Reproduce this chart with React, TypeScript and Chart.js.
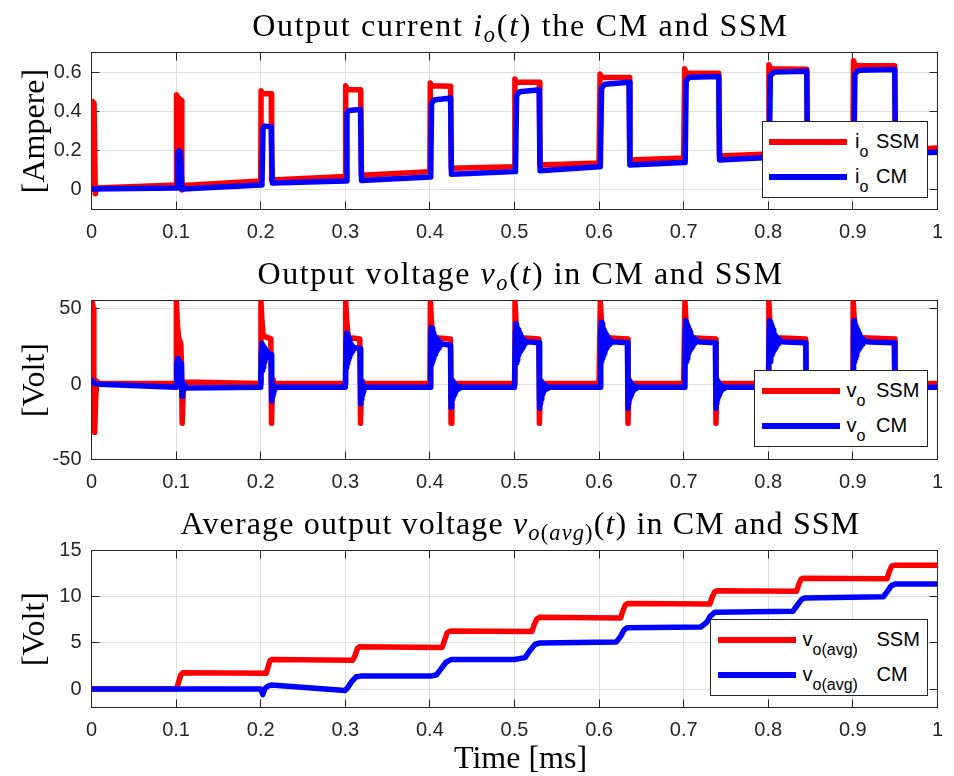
import React, { useEffect, useRef } from "react";
import { Chart, registerables } from "chart.js";
Chart.register(...registerables);

// ---------- tick values ----------
const xTicks = [0, 0.1, 0.2, 0.3, 0.4, 0.5, 0.6, 0.7, 0.8, 0.9, 1];
const xTickLabels = ["0", "0.1", "0.2", "0.3", "0.4", "0.5", "0.6", "0.7", "0.8", "0.9", "1"];
const ioTicks = [0, 0.2, 0.4, 0.6];
const ioTickLabels = ["0", "0.2", "0.4", "0.6"];
const voTicks = [-50, 0, 50];
const voTickLabels = ["-50", "0", "50"];
const avgTicks = [0, 5, 10, 15];
const avgTickLabels = ["0", "5", "10", "15"];

// ---------- output current i_o(t) [A], points [t(ms), value] ----------
const ioSsm: [number, number][] = [
  [0, 0.01], [0.0012, 0.45], [0.003, 0.44], [0.0045, -0.02], [0.006, 0.01], [0.1, 0.025],
  [0.1005, 0.485], [0.102, 0.47], [0.1028, 0.15], [0.1038, 0.465], [0.1058, 0.455], [0.1068, 0.0], [0.108, 0.022], [0.2, 0.045],
  [0.2005, 0.505], [0.202, 0.49], [0.2125, 0.49], [0.213, 0.05], [0.3, 0.068],
  [0.3005, 0.53], [0.302, 0.51], [0.3183, 0.51], [0.319, 0.075], [0.4, 0.093],
  [0.4005, 0.545], [0.402, 0.53], [0.4245, 0.528], [0.4252, 0.11], [0.5, 0.118],
  [0.5005, 0.565], [0.502, 0.55], [0.5293, 0.548], [0.53, 0.127], [0.6, 0.137],
  [0.6012, 0.59], [0.603, 0.574], [0.6355, 0.572], [0.6362, 0.152], [0.7, 0.162],
  [0.7012, 0.617], [0.703, 0.596], [0.7415, 0.594], [0.7422, 0.172], [0.8, 0.183],
  [0.8008, 0.638], [0.803, 0.617], [0.8455, 0.615], [0.8462, 0.188], [0.9, 0.196],
  [0.9008, 0.658], [0.903, 0.634], [0.9495, 0.632], [0.9502, 0.203], [1, 0.213],
];
const ioCm: [number, number][] = [
  [0, 0.005], [0.1, 0.01], [0.1012, 0.01], [0.102, 0.19], [0.1035, 0.2], [0.105, 0.19], [0.107, 0.005], [0.2, 0.025],
  [0.2015, 0.025], [0.2028, 0.315], [0.205, 0.325], [0.2125, 0.32], [0.2138, 0.035], [0.3, 0.045],
  [0.301, 0.045], [0.302, 0.39], [0.304, 0.405], [0.318, 0.41], [0.3192, 0.048], [0.4, 0.066],
  [0.401, 0.066], [0.402, 0.44], [0.405, 0.458], [0.4245, 0.468], [0.4255, 0.08], [0.5, 0.093],
  [0.5012, 0.093], [0.5025, 0.48], [0.506, 0.5], [0.5293, 0.51], [0.5303, 0.098], [0.6, 0.118],
  [0.6015, 0.118], [0.603, 0.52], [0.607, 0.538], [0.6355, 0.548], [0.6365, 0.127], [0.7, 0.14],
  [0.7018, 0.14], [0.703, 0.558], [0.707, 0.574], [0.7415, 0.578], [0.7425, 0.152], [0.8, 0.165],
  [0.8012, 0.165], [0.8025, 0.583], [0.807, 0.6], [0.8455, 0.605], [0.8465, 0.17], [0.9, 0.18],
  [0.9012, 0.18], [0.9025, 0.592], [0.907, 0.61], [0.9495, 0.614], [0.9505, 0.186], [1, 0.192],
];

// ---------- output voltage v_o(t) [V] ----------
const voSsm: [number, number][] = [
  [0, 0], [0.0008, 55], [0.0018, 50], [0.0028, 5], [0.0038, -32], [0.005, -8], [0.0065, 2], [0.008, 0.5], [0.1, 0.5],
  [0.1003, 55], [0.1015, 40], [0.103, 31], [0.1055, 27], [0.1063, 15], [0.1072, -26], [0.1085, -5], [0.1095, 1.5], [0.2, 0.5],
  [0.2003, 55], [0.2015, 42], [0.203, 32], [0.212, 30], [0.2128, -26], [0.2138, -5], [0.2148, 3], [0.216, 0.5], [0.3, 0.5],
  [0.3005, 55], [0.302, 40], [0.3035, 31], [0.3172, 30], [0.318, -26], [0.319, -5], [0.3205, 2], [0.322, 0.5], [0.4, 0.5],
  [0.4006, 55], [0.402, 40], [0.4035, 31], [0.4243, 30], [0.425, -26], [0.426, -5], [0.4275, 2], [0.429, 0.5], [0.5, 0.5],
  [0.5006, 55], [0.502, 40], [0.5035, 31], [0.5288, 30], [0.5295, -26], [0.5305, -5], [0.532, 2], [0.5335, 0.5], [0.6, 0.5],
  [0.6015, 55], [0.603, 40], [0.6045, 31], [0.6335, 30], [0.6342, -26], [0.6352, -5], [0.6367, 2], [0.638, 0.5], [0.7, 0.5],
  [0.7015, 55], [0.703, 40], [0.7045, 31], [0.7375, 30], [0.7382, -26], [0.7392, -5], [0.7407, 2], [0.742, 0.5], [0.8, 0.5],
  [0.8007, 55], [0.802, 40], [0.8035, 31], [0.8442, 30], [0.845, -26], [0.846, -5], [0.8475, 2], [0.849, 0.5], [0.9, 0.5],
  [0.9004, 55], [0.902, 40], [0.9035, 31], [0.949, 30], [0.9498, -26], [0.9508, -5], [0.9523, 2], [0.9538, 0.5], [1, 0.5],
];
const voCm: [number, number][] = [
  [0, 2.5], [0.0015, 2], [0.003, 0.5], [0.01, 0], [0.1, -2],
  [0.1005, -2], [0.1009, 14], [0.1014, 3], [0.1019, 17], [0.1024, 5], [0.1029, 16], [0.1034, 7], [0.1039, 15], [0.1044, 9],
  [0.1049, 14], [0.1054, 10], [0.1059, 13], [0.1064, 11], [0.107, -8], [0.1075, 1], [0.108, -6], [0.1085, 0], [0.109, -4],
  [0.1095, -1], [0.1105, -2.5], [0.2, -2],
  [0.2003, -2], [0.2008, 22], [0.2013, 27], [0.2018, 9], [0.2023, 26], [0.2028, 11], [0.2033, 25], [0.2038, 13], [0.2043, 24],
  [0.2048, 15], [0.2053, 23], [0.2058, 17], [0.2063, 22], [0.2068, 18], [0.2075, 21], [0.2085, 19.5], [0.21, 20], [0.2122, 19.5],
  [0.2128, -11], [0.2133, 2], [0.2138, -8], [0.2143, 0], [0.2148, -6], [0.2153, -1], [0.2158, -4], [0.2165, -2], [0.3, -2],
  [0.3005, -2], [0.301, 30], [0.3015, 34], [0.302, 11], [0.3025, 33], [0.303, 14], [0.3035, 31], [0.304, 16], [0.3045, 30],
  [0.305, 18], [0.3055, 28], [0.306, 20], [0.3065, 27], [0.307, 21], [0.3075, 26], [0.308, 22], [0.309, 25], [0.311, 24],
  [0.314, 24], [0.3175, 23.5], [0.318, -13], [0.3185, 2], [0.319, -10], [0.3195, 1], [0.32, -7], [0.3205, 0], [0.321, -5],
  [0.3215, -1], [0.322, -4], [0.323, -2], [0.4, -2],
  [0.4006, -2], [0.4011, 33], [0.4016, 37.5], [0.4021, 13], [0.4026, 37], [0.4031, 15], [0.4036, 35], [0.4041, 17], [0.4046, 34],
  [0.4051, 19], [0.4056, 32], [0.4061, 20], [0.4066, 31], [0.4071, 21], [0.4076, 30], [0.4081, 22], [0.4086, 29.5], [0.4091, 23],
  [0.4096, 29], [0.4101, 24], [0.4106, 28.5], [0.4111, 25], [0.4116, 28], [0.4121, 26], [0.4126, 27.5], [0.4135, 26.5],
  [0.416, 26.5], [0.4245, 26], [0.425, -15.5], [0.4255, 3], [0.426, -12], [0.4265, 2], [0.427, -10], [0.4275, 1], [0.428, -8],
  [0.4285, 0.5], [0.429, -6.5], [0.4295, 0], [0.43, -5], [0.4305, -0.5], [0.431, -4], [0.4318, -1], [0.4325, -3.5],
  [0.4335, -1.5], [0.4345, -3], [0.436, -2], [0.5, -2],
  [0.5006, -2], [0.5011, 35], [0.5016, 40], [0.5021, 14], [0.5026, 39], [0.5031, 16], [0.5036, 37], [0.5041, 18], [0.5046, 36],
  [0.5051, 19.5], [0.5056, 34], [0.5061, 21], [0.5066, 33], [0.5071, 22], [0.5076, 32], [0.5081, 23], [0.5086, 31], [0.5091, 24],
  [0.5096, 30], [0.5101, 25], [0.5106, 29.5], [0.5111, 26], [0.5116, 29], [0.5121, 26.5], [0.5126, 28.5], [0.5131, 27],
  [0.514, 28], [0.52, 28], [0.529, 27.5], [0.5295, -16], [0.53, 3], [0.5305, -12.5], [0.531, 2], [0.5315, -10], [0.532, 1],
  [0.5325, -8], [0.533, 0.5], [0.5335, -6.5], [0.534, 0], [0.5345, -5], [0.535, -0.5], [0.5355, -4], [0.5363, -1],
  [0.537, -3.5], [0.538, -1.5], [0.539, -3], [0.541, -2], [0.6, -2],
  [0.6015, -2], [0.602, 36], [0.6025, 41], [0.603, 15], [0.6035, 40], [0.604, 17], [0.6045, 38], [0.605, 19], [0.6055, 36.5],
  [0.606, 20.5], [0.6065, 35], [0.607, 22], [0.6075, 33.5], [0.608, 23], [0.6085, 32.5], [0.609, 24], [0.6095, 31.5], [0.61, 25],
  [0.6105, 30.5], [0.611, 26], [0.6115, 30], [0.612, 26.5], [0.6125, 29.5], [0.613, 27], [0.6135, 29], [0.6145, 28], [0.62, 28],
  [0.6337, 27.5], [0.6342, -16], [0.6347, 3], [0.6352, -12.5], [0.6357, 2], [0.6362, -10], [0.6367, 1], [0.6372, -8],
  [0.6377, 0.5], [0.6382, -6.5], [0.6387, 0], [0.6392, -5], [0.6397, -0.5], [0.6402, -4], [0.641, -1], [0.6417, -3.5],
  [0.6427, -1.5], [0.6437, -3], [0.6457, -2], [0.7, -2],
  [0.7015, -2], [0.702, 37], [0.7025, 42], [0.703, 15], [0.7035, 41], [0.704, 17], [0.7045, 39], [0.705, 19], [0.7055, 37.5],
  [0.706, 20.5], [0.7065, 36], [0.707, 22], [0.7075, 34.5], [0.708, 23], [0.7085, 33], [0.709, 24], [0.7095, 32], [0.71, 25],
  [0.7105, 31], [0.711, 26], [0.7115, 30.5], [0.712, 26.5], [0.7125, 30], [0.713, 27], [0.7135, 29.5], [0.7145, 28.5], [0.72, 28],
  [0.7377, 27.5], [0.7382, -16], [0.7387, 3], [0.7392, -12.5], [0.7397, 2], [0.7402, -10], [0.7407, 1], [0.7412, -8],
  [0.7417, 0.5], [0.7422, -6.5], [0.7427, 0], [0.7432, -5], [0.7437, -0.5], [0.7442, -4], [0.745, -1], [0.7457, -3.5],
  [0.7467, -1.5], [0.7477, -3], [0.7497, -2], [0.8, -2],
  [0.8007, -2], [0.8012, 37], [0.8017, 42], [0.8022, 15], [0.8027, 41], [0.8032, 17], [0.8037, 39], [0.8042, 19], [0.8047, 37.5],
  [0.8052, 20.5], [0.8057, 36], [0.8062, 22], [0.8067, 34.5], [0.8072, 23], [0.8077, 33], [0.8082, 24], [0.8087, 32], [0.8092, 25],
  [0.8097, 31], [0.8102, 26], [0.8107, 30.5], [0.8112, 26.5], [0.8117, 30], [0.8122, 27], [0.8127, 29.5], [0.8137, 28.5], [0.82, 28],
  [0.8445, 27.5], [0.845, -16], [0.8455, 3], [0.846, -12.5], [0.8465, 2], [0.847, -10], [0.8475, 1], [0.848, -8],
  [0.8485, 0.5], [0.849, -6.5], [0.8495, 0], [0.85, -5], [0.8505, -0.5], [0.851, -4], [0.8518, -1], [0.8525, -3.5],
  [0.8535, -1.5], [0.8545, -3], [0.8565, -2], [0.9, -2],
  [0.9004, -2], [0.9009, 37], [0.9014, 42], [0.9019, 15], [0.9024, 41], [0.9029, 17], [0.9034, 39], [0.9039, 19], [0.9044, 37.5],
  [0.9049, 20.5], [0.9054, 36], [0.9059, 22], [0.9064, 34.5], [0.9069, 23], [0.9074, 33], [0.9079, 24], [0.9084, 32], [0.9089, 25],
  [0.9094, 31], [0.9099, 26], [0.9104, 30.5], [0.9109, 26.5], [0.9114, 30], [0.9119, 27], [0.9124, 29.5], [0.9134, 28.5], [0.92, 28],
  [0.9493, 27.5], [0.9498, -16], [0.9503, 3], [0.9508, -12.5], [0.9513, 2], [0.9518, -10], [0.9523, 1], [0.9528, -8],
  [0.9533, 0.5], [0.9538, -6.5], [0.9543, 0], [0.9548, -5], [0.9553, -0.5], [0.9558, -4], [0.9566, -1], [0.9573, -3.5],
  [0.9583, -1.5], [0.9593, -3], [0.9613, -2], [1, -2],
];

// ---------- average output voltage v_o(avg)(t) [V] ----------
const avgSsm: [number, number][] = [
  [0, 0], [0.1, 0], [0.1015, 0.3], [0.1055, 1.5], [0.108, 1.75], [0.2065, 1.7], [0.2085, 2.3], [0.211, 3.1], [0.2135, 3.2],
  [0.3085, 3.12], [0.311, 3.5], [0.3145, 4.4], [0.317, 4.58], [0.4145, 4.5], [0.4175, 5.3], [0.4205, 6.1], [0.424, 6.27],
  [0.5205, 6.22], [0.5235, 7.0], [0.5265, 7.6], [0.53, 7.77], [0.6255, 7.7], [0.628, 8.4], [0.631, 9.1], [0.634, 9.27],
  [0.731, 9.2], [0.7335, 9.9], [0.7365, 10.5], [0.7395, 10.64], [0.8335, 10.6], [0.836, 11.3], [0.839, 11.9], [0.842, 12.0],
  [0.9405, 11.95], [0.943, 12.7], [0.946, 13.3], [0.949, 13.4], [1, 13.4],
];
const avgCm: [number, number][] = [
  [0, 0], [0.2, 0], [0.2012, -0.3], [0.2025, -0.6], [0.205, 0.05], [0.209, 0.35], [0.2125, 0.43], [0.3, -0.15],
  [0.3025, 0.1], [0.3075, 0.8], [0.3125, 1.3], [0.318, 1.4], [0.401, 1.4], [0.408, 1.55], [0.4125, 2.1], [0.419, 2.9],
  [0.425, 3.19], [0.5, 3.2], [0.5125, 3.4], [0.5185, 4.2], [0.5245, 4.85], [0.53, 4.98], [0.6205, 5.1], [0.6255, 5.7],
  [0.6295, 6.4], [0.633, 6.63], [0.72, 6.72], [0.727, 7.2], [0.7315, 7.9], [0.737, 8.32], [0.829, 8.42], [0.8345, 9.1],
  [0.8395, 9.7], [0.843, 9.86], [0.936, 9.98], [0.941, 10.6], [0.9455, 11.2], [0.95, 11.36], [1, 11.36],
];

// ---------- styling ----------
const RED = "#ff0000";
const BLUE = "#0000ff";
const AXIS = "#262626";
const GRID = "#dfdfdf";
const SANS = "'Liberation Sans', Arial, Helvetica, sans-serif";
const SERIF = "'Liberation Serif', 'Times New Roman', serif";
const LINE_W = 5.5;

const matlabAxes = {
  id: "matlabAxes",
  beforeDatasetsDraw(chart: any) {
    const { ctx, chartArea: a, scales } = chart;
    const L = 8;
    ctx.save();
    ctx.strokeStyle = AXIS;
    ctx.lineWidth = 1;
    ctx.beginPath();
    scales.x.ticks.forEach((t: any) => {
      const px = Math.round(scales.x.getPixelForValue(t.value) - 0.5) + 0.5;
      ctx.moveTo(px, a.bottom);
      ctx.lineTo(px, a.bottom - L);
      ctx.moveTo(px, a.top);
      ctx.lineTo(px, a.top + L);
    });
    scales.y.ticks.forEach((t: any) => {
      const py = Math.round(scales.y.getPixelForValue(t.value) - 0.5) + 0.5;
      ctx.moveTo(a.left, py);
      ctx.lineTo(a.left + L, py);
      ctx.moveTo(a.right, py);
      ctx.lineTo(a.right - L, py);
    });
    ctx.stroke();
    ctx.strokeRect(a.left, a.top, a.right - a.left, a.bottom - a.top);
    ctx.restore();
  },
};

type Panel = {
  series: { data: [number, number][]; color: string; label: string; order: number }[];
  yMin: number;
  yMax: number;
  yTicks: number[];
  yLabels: string[];
  padTop: number;
  xHeight: number;
};

function buildConfig(p: Panel): any {
  return {
    type: "line",
    data: {
      datasets: p.series.map((s) => ({
        label: s.label,
        order: s.order,
        data: s.data.map(([x, y]) => ({ x, y })),
        borderColor: s.color,
        backgroundColor: s.color,
        borderWidth: LINE_W,
        pointRadius: 0,
        tension: 0,
        fill: false,
        borderJoinStyle: "round",
        borderCapStyle: "round",
      })),
    },
    options: {
      animation: false,
      responsive: false,
      events: [],
      layout: { padding: { left: 0, right: 4.5, top: p.padTop, bottom: 0 } },
      plugins: { legend: { display: false }, tooltip: { enabled: false }, title: { display: false } },
      scales: {
        x: {
          type: "linear",
          min: 0,
          max: 1,
          afterBuildTicks: (scale: any) => {
            scale.ticks = xTicks.map((v) => ({ value: v }));
          },
          afterFit: (scale: any) => {
            scale.height = p.xHeight;
          },
          ticks: {
            autoSkip: false,
            maxRotation: 0,
            padding: 11,
            color: AXIS,
            font: { family: SANS, size: 20 },
            callback: (_v: any, i: number) => xTickLabels[i],
          },
          grid: { color: GRID, lineWidth: 1, drawTicks: false },
          border: { display: false },
        },
        y: {
          type: "linear",
          min: p.yMin,
          max: p.yMax,
          afterBuildTicks: (scale: any) => {
            scale.ticks = p.yTicks.map((v) => ({ value: v }));
          },
          afterFit: (scale: any) => {
            scale.width = 91.5;
          },
          ticks: {
            autoSkip: false,
            padding: 10,
            color: AXIS,
            font: { family: SANS, size: 20 },
            callback: (_v: any, i: number) => p.yLabels[i],
          },
          grid: { color: GRID, lineWidth: 1, drawTicks: false },
          border: { display: false },
        },
      },
    },
    plugins: [matlabAxes],
  };
}

const panels: Panel[] = [
  {
    series: [
      { data: ioSsm, color: RED, label: "io SSM", order: 1 },
      { data: ioCm, color: BLUE, label: "io CM", order: 0 },
    ],
    yMin: -0.1, yMax: 0.7, yTicks: ioTicks, yLabels: ioTickLabels, padTop: 52.5, xHeight: 40.5,
  },
  {
    series: [
      { data: voSsm, color: RED, label: "vo SSM", order: 1 },
      { data: voCm, color: BLUE, label: "vo CM", order: 0 },
    ],
    yMin: -50, yMax: 55.5, yTicks: voTicks, yLabels: voTickLabels, padTop: 50.5, xHeight: 40.5,
  },
  {
    series: [
      { data: avgSsm, color: RED, label: "vo(avg) SSM", order: 1 },
      { data: avgCm, color: BLUE, label: "vo(avg) CM", order: 0 },
    ],
    yMin: -2, yMax: 15, yTicks: avgTicks, yLabels: avgTickLabels, padTop: 50.5, xHeight: 68.5,
  },
];
const canvasTops = [0, 250, 500];
const canvasHeights = [250, 250, 276];

const subStyle: React.CSSProperties = { fontSize: "0.7em", position: "relative", top: "0.28em" };

function Title({ baseline, spacing, children }: { baseline: number; spacing: number; children: React.ReactNode }) {
  return (
    <div
      style={{
        position: "absolute", left: 91.5, width: 858, top: baseline - 26.8, textAlign: "center",
        fontFamily: SERIF, fontSize: 32, lineHeight: "32px", whiteSpace: "nowrap", color: "#000", letterSpacing: `${spacing}px`,
      }}
    >
      {children}
    </div>
  );
}

function YLabel({ cy, text }: { cy: number; text: string }) {
  const cx = 32.8;
  return (
    <div
      style={{
        position: "absolute", left: cx - 150, top: cy - 16, width: 300, height: 32, textAlign: "center",
        fontFamily: SERIF, fontSize: 32, lineHeight: "32px", whiteSpace: "nowrap", color: "#000",
        transform: "rotate(-90deg)", transformOrigin: "50% 50%",
      }}
    >
      {text}
    </div>
  );
}

type LegItem = { color: string; main: string; sub: string; label: string };
function Legend({ box, lineX, textX, labelX, items }: { box: number[]; lineX: number; textX: number; labelX: number; items: LegItem[] }) {
  const rows = [20.5, 56];
  const bases = [26.5, 61.5];
  const txt: React.CSSProperties = { position: "absolute", fontFamily: SANS, fontSize: 20, lineHeight: "20px", whiteSpace: "pre", color: "#000" };
  return (
    <div
      style={{
        position: "absolute", left: box[0], top: box[1], width: box[2], height: box[3], boxSizing: "border-box",
        border: `1px solid ${AXIS}`, background: "#fff",
      }}
    >
      {items.map((it, i) => (
        <React.Fragment key={i}>
          <div style={{ position: "absolute", left: lineX - 1, top: rows[i] - 3 - 1, width: 78, height: 6, background: it.color }} />
          <div style={{ ...txt, left: textX - 1, top: bases[i] - 17 - 1 }}>
            {it.main}
            <span style={{ fontSize: 16, position: "relative", top: 9 }}>{it.sub}</span>
          </div>
          <div style={{ ...txt, left: labelX - 1, top: bases[i] - 17 - 1 }}>{it.label}</div>
        </React.Fragment>
      ))}
    </div>
  );
}

export default function App() {
  const r1 = useRef<HTMLCanvasElement>(null);
  const r2 = useRef<HTMLCanvasElement>(null);
  const r3 = useRef<HTMLCanvasElement>(null);

  useEffect(() => {
    const refs = [r1, r2, r3];
    const charts = refs.map((r, i) => new Chart(r.current as HTMLCanvasElement, buildConfig(panels[i])));
    return () => charts.forEach((c) => c.destroy());
  }, []);

  const refs = [r1, r2, r3];
  return (
    <div style={{ position: "absolute", left: 0, top: 0, width: 954, height: 776, background: "#fff", overflow: "hidden" }}>
      {refs.map((r, i) => (
        <canvas
          key={i}
          ref={r}
          width={954}
          height={canvasHeights[i]}
          style={{ position: "absolute", left: 0, top: canvasTops[i], width: 954, height: canvasHeights[i] }}
        />
      ))}
      <Title baseline={35.3} spacing={1.7}>
        Output current <i>i</i><span style={{ ...subStyle, fontStyle: "italic" }}>o</span>(<i>t</i>) the CM and SSM
      </Title>
      <Title baseline={283.3} spacing={1.6}>
        Output voltage <i>v</i><span style={{ ...subStyle, fontStyle: "italic" }}>o</span>(<i>t</i>) in CM and SSM
      </Title>
      <Title baseline={533.3} spacing={1.15}>
        Average output voltage <i>v</i>
        <span style={subStyle}><i>o</i>(<i>avg</i>)</span>(<i>t</i>) in CM and SSM
      </Title>
      <div
        style={{
          position: "absolute", left: 91.5, width: 858, top: 768 - 26.8, textAlign: "center",
          fontFamily: SERIF, fontSize: 32, lineHeight: "32px", whiteSpace: "nowrap", color: "#000",
        }}
      >
        Time [ms]
      </div>
      <YLabel cy={131} text="[Ampere]" />
      <YLabel cy={380} text="[Volt]" />
      <YLabel cy={629} text="[Volt]" />
      <Legend
        box={[762, 121, 166, 77]}
        lineX={7}
        textX={93}
        labelX={114}
        items={[
          { color: RED, main: "i", sub: "o", label: "SSM" },
          { color: BLUE, main: "i", sub: "o", label: "CM" },
        ]}
      />
      <Legend
        box={[753.5, 370, 174, 77]}
        lineX={8}
        textX={93}
        labelX={122.5}
        items={[
          { color: RED, main: "v", sub: "o", label: "SSM" },
          { color: BLUE, main: "v", sub: "o", label: "CM" },
        ]}
      />
      <Legend
        box={[710, 619, 217.5, 77]}
        lineX={8}
        textX={92.5}
        labelX={166.5}
        items={[
          { color: RED, main: "v", sub: "o(avg)", label: "SSM" },
          { color: BLUE, main: "v", sub: "o(avg)", label: "CM" },
        ]}
      />
    </div>
  );
}
